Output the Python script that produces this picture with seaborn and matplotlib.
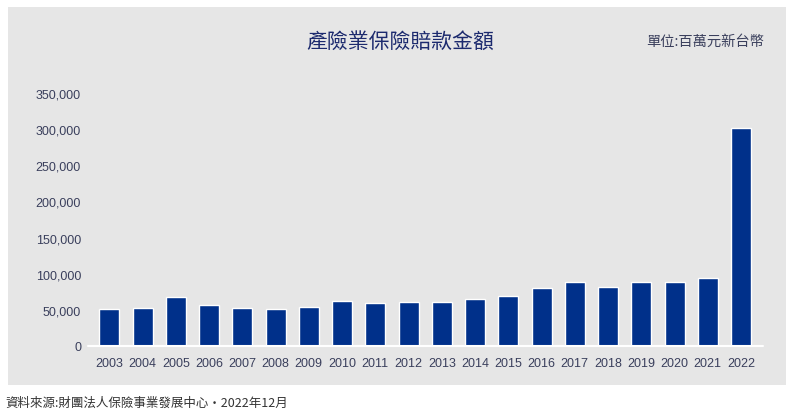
import matplotlib
matplotlib.use('Agg')
import matplotlib.pyplot as plt
import matplotlib.patches as patches
import seaborn as sns
import pandas as pd

# 產險業保險賠款金額 (單位: 百萬元新台幣)
years = ['2003', '2004', '2005', '2006', '2007', '2008', '2009', '2010', '2011', '2012',
         '2013', '2014', '2015', '2016', '2017', '2018', '2019', '2020', '2021', '2022']
claims = [50800, 52100, 67300, 57200, 52100, 50700, 54500, 62200, 59500, 60900,
          60900, 64600, 68700, 79800, 89000, 81200, 89000, 89000, 93600, 302000]
yticks = [0, 50000, 100000, 150000, 200000, 250000, 300000, 350000]

df = pd.DataFrame({'year': years, 'claims': claims})

sns.set_style('white')
cjk = ['Noto Sans CJK TC', 'DejaVu Sans']
panel = '#e6e6e6'
bar_color = '#00308a'
tick_color = '#3a3f5c'

fig = plt.figure(figsize=(8, 4.14), dpi=100)
fig.patch.set_facecolor('white')
# gray panel behind everything
fig.patches.append(patches.Rectangle((8 / 800, 1 - 386 / 414), 778 / 800, 378 / 414,
                                     transform=fig.transFigure, facecolor=panel,
                                     edgecolor='none', zorder=-10))

ax = fig.add_axes([88 / 800, 1 - 347 / 414, 675 / 800, 253 / 414])
ax.set_facecolor(panel)
sns.barplot(data=df, x='year', y='claims', color=bar_color, width=0.6,
            saturation=1, ax=ax, zorder=2)
ax.axhline(0, color='white', lw=1.5, zorder=3, clip_on=False)

ax.set_ylim(0, 350000)
ax.set_xlim(-0.64, len(years) - 1 + 0.66)
ax.set_yticks(yticks)
ax.set_yticklabels([f'{v:,}' for v in yticks])
ax.set_xlabel('')
ax.set_ylabel('')
ax.tick_params(axis='both', length=0, labelsize=9, labelcolor=tick_color)
ax.tick_params(axis='y', pad=5)
ax.tick_params(axis='x', pad=8)
for lbl in ax.get_xticklabels() + ax.get_yticklabels():
    lbl.set_family('Liberation Sans')
for s in ax.spines.values():
    s.set_visible(False)
ax.grid(False)

fig.text(0.5, 1 - 42 / 414, '產險業保險賠款金額', ha='center', va='center',
         fontsize=15, color='#1c2a6e', weight='medium', family=cjk)
fig.text(764 / 800, 1 - 42 / 414, '單位:百萬元新台幣', ha='right', va='center',
         fontsize=10.3, color=tick_color, family=cjk)
fig.text(5 / 800, 1 - 403 / 414, '資料來源:財團法人保險事業發展中心·2022年12月', ha='left',
         va='center', fontsize=9, color='#333333', family=cjk)

fig.savefig('out.png', dpi=100, facecolor='white')
